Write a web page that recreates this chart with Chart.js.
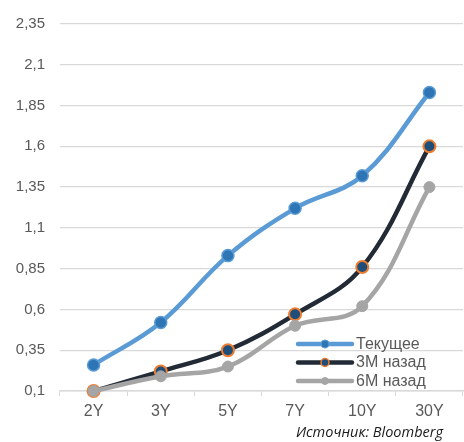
<!DOCTYPE html>
<html>
<head>
<meta charset="utf-8">
<script src="https://cdn.jsdelivr.net/npm/chart.js@4/dist/chart.umd.min.js"></script>
<style>
  html, body { margin: 0; padding: 0; background: #ffffff; }
  #wrap { position: relative; width: 464px; height: 442px; }
</style>
</head>
<body>
<div id="wrap"><canvas id="chart"></canvas></div>
<script>
// Yield curve by tenor
const tenors = ['2Y', '3Y', '5Y', '7Y', '10Y', '30Y'];
const currentYield = [0.26, 0.52, 0.93, 1.22, 1.42, 1.93];
const yield3mAgo   = [0.10, 0.22, 0.35, 0.57, 0.86, 1.60];
const yield6mAgo   = [0.10, 0.19, 0.25, 0.50, 0.62, 1.35];
const seriesNames  = ['Текущее', '3M назад', '6М назад'];
const sourceNote   = 'Источник: Bloomberg';

const yMin = 0.1, yMax = 2.35, yStep = 0.25;

const textColor = '#595959';
const gridColor = '#d9d9d9';
const fontFamily = '"Liberation Sans", Arial, sans-serif';

const styles = [
  { line: '#5b9bd5', fill: '#2e75b6', border: '#5b9bd5', radius: 6, bw: 1.5, lr: 4, lbw: 1 },
  { line: '#222a35', fill: '#1f4e79', border: '#ed7d31', radius: 6, bw: 2,   lr: 4, lbw: 1.5 },
  { line: '#a5a5a5', fill: '#a5a5a5', border: '#a5a5a5', radius: 5.5, bw: 1, lr: 3.5, lbw: 1 }
];

const seriesData = [currentYield, yield3mAgo, yield6mAgo];

const datasets = seriesData.map((d, i) => ({
  label: seriesNames[i],
  data: d,
  borderColor: styles[i].line,
  borderWidth: 4.5,
  backgroundColor: styles[i].fill,
  pointBackgroundColor: styles[i].fill,
  pointBorderColor: styles[i].border,
  pointBorderWidth: styles[i].bw,
  pointRadius: styles[i].radius,
  pointHoverRadius: styles[i].radius,
  tension: 0.38,
  fill: false,
  clip: false,
  order: 2 - i
}));

// Legend drawn inside the plot area, lower right
const insideLegend = {
  id: 'insideLegend',
  afterDraw(chart) {
    const ctx = chart.ctx;
    const area = chart.chartArea;
    const x0 = area.right - 166;
    const rows = [area.bottom - 47, area.bottom - 28.5, area.bottom - 10];
    ctx.save();
    ctx.font = '16px ' + fontFamily;
    ctx.textBaseline = 'middle';
    ctx.textAlign = 'left';
    seriesNames.forEach((name, i) => {
      const y = rows[i];
      const s = styles[i];
      ctx.strokeStyle = s.line;
      ctx.lineWidth = 4.5;
      ctx.lineCap = 'round';
      ctx.beginPath();
      ctx.moveTo(x0 + 1, y);
      ctx.lineTo(x0 + 55, y);
      ctx.stroke();
      ctx.beginPath();
      ctx.arc(x0 + 28, y, s.lr, 0, Math.PI * 2);
      ctx.fillStyle = s.fill;
      ctx.fill();
      ctx.lineWidth = s.lbw;
      ctx.strokeStyle = s.border;
      ctx.stroke();
      ctx.fillStyle = textColor;
      ctx.fillText(name, x0 + 59, y + 0.5);
    });
    // source note
    ctx.font = 'italic 14.5px "Open Sans", sans-serif';
    ctx.fillStyle = '#1a1a1a';
    ctx.textAlign = 'right';
    ctx.fillText(sourceNote, 443, 433);
    ctx.restore();
  }
};

new Chart(document.getElementById('chart'), {
  type: 'line',
  data: { labels: tenors, datasets },
  options: {
    responsive: true,
    maintainAspectRatio: false,
    animation: false,
    layout: { autoPadding: false, padding: { top: 22, right: 1, bottom: 21, left: 0 } },
    plugins: {
      legend: { display: false },
      tooltip: { enabled: false }
    },
    scales: {
      x: {
        offset: true,
        grid: {
          offset: true,
          drawOnChartArea: false,
          drawTicks: true,
          tickLength: 5,
          color: gridColor,
          lineWidth: 1
        },
        border: { display: true, color: gridColor, width: 1.5 },
        ticks: {
          color: textColor,
          font: { family: fontFamily, size: 16 },
          padding: 6,
          maxRotation: 0
        },
        afterFit(scale) {
          scale.height = 30;
          scale.paddingLeft = 0;
          scale.paddingRight = 0;
        }
      },
      y: {
        min: yMin,
        max: yMax,
        grid: { drawTicks: false, color: gridColor, lineWidth: 1.3 },
        border: { display: false },
        ticks: {
          stepSize: yStep,
          color: textColor,
          font: { family: fontFamily, size: 15 },
          padding: 15,
          callback: v => String(Number(Number(v).toFixed(2))).replace('.', ',')
        },
        afterFit(scale) { scale.width = 60; }
      }
    }
  },
  plugins: [insideLegend]
});
</script>
</body>
</html>
